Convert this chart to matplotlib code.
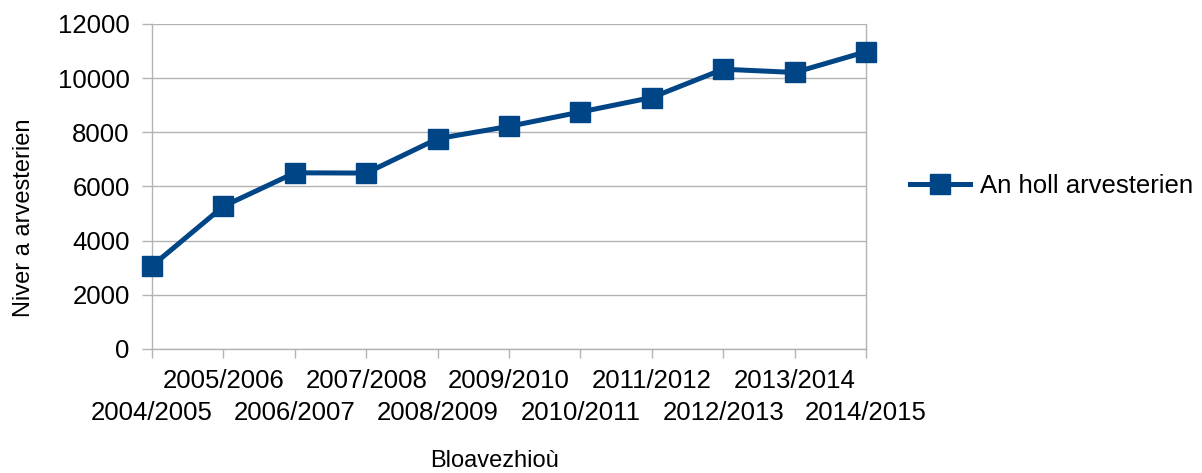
import numpy as np
import matplotlib.pyplot as plt

plt.rcParams["font.family"] = ["Liberation Sans", "DejaVu Sans"]

seasons = ["2004/2005", "2005/2006", "2006/2007", "2007/2008", "2008/2009",
           "2009/2010", "2010/2011", "2011/2012", "2012/2013", "2013/2014",
           "2014/2015"]
members = [3070, 5270, 6505, 6495, 7765, 8220, 8750, 9285, 10330, 10210, 10975]
yticks = [0, 2000, 4000, 6000, 8000, 10000, 12000]

blue = "#004586"
grid_gray = "#b3b3b3"

fig = plt.figure(figsize=(12.02, 4.73), dpi=100)
ax = fig.add_axes([0.1265, 0.2622, 0.5940, 0.6871])

x = np.arange(len(seasons))
ax.plot(x, members, color=blue, lw=3.6, marker="s", ms=14,
        label="An holl arvesterien", zorder=3, clip_on=False)

ax.set_xlim(0, len(seasons) - 1)
ax.set_ylim(0, 12000)
ax.set_yticks(yticks)
ax.yaxis.grid(True, color=grid_gray, lw=1)
ax.set_axisbelow(True)

# staggered category labels: odd ones on the upper row, even ones below
ax.set_xticks(x[1::2])
ax.set_xticklabels(seasons[1::2])
ax.set_xticks(x[0::2], minor=True)
ax.set_xticklabels(seasons[0::2], minor=True)
ax.tick_params(axis="x", which="both", direction="out", length=6.5,
               color=grid_gray, labelsize=18.5, width=1)
ax.tick_params(axis="x", which="major", pad=8)
ax.tick_params(axis="x", which="minor", pad=31)
ax.tick_params(axis="y", direction="out", length=7, color=grid_gray,
               labelsize=18.5, pad=9, width=1)

for s in ax.spines.values():
    s.set_color(grid_gray)
    s.set_linewidth(1)
ax.spines["top"].set_visible(False)

ax.set_ylabel("Niver a arvesterien", fontsize=17)
ax.yaxis.set_label_coords(-0.164, 0.403)
ax.set_xlabel("Bloavezhioù", fontsize=17)
ax.xaxis.set_label_coords(0.48, -0.312)

ax.legend(loc="center left", bbox_to_anchor=(1.0613, 0.5), frameon=False,
          fontsize=18.5, handlelength=2.35, handletextpad=0.4, borderaxespad=0,
          borderpad=0)

fig.savefig("out.png", dpi=100)
